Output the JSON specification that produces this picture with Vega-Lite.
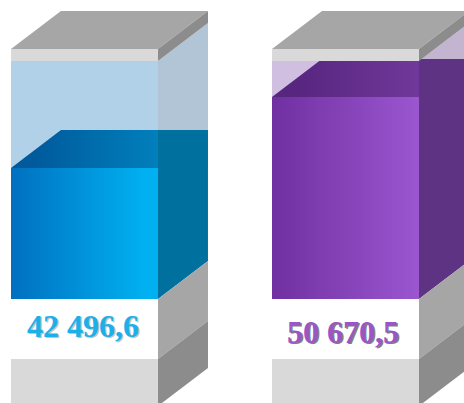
{
"$schema":"https://vega.github.io/schema/vega-lite/v6.json",
"width":464,"height":403,"padding":0,
"autosize":{"type":"fit","contains":"padding"},
"background":"#ffffff",
"config":{"view":{"stroke":null}},
"resolve":{"scale":{"color":"independent"}},
"datasets":{
"shapes":[
{"shape":"A glass front","group":"back","x":0,"lo":42496.6,"hi":54816},
{"shape":"A glass front","group":"back","x":1,"lo":42496.6,"hi":54816},
{"shape":"A glass side","group":"back","x":1,"lo":42496.6,"hi":54816},
{"shape":"A glass side","group":"back","x":1.34,"lo":42496.6,"hi":59191},
{"shape":"B glass front","group":"back","x":1.7755,"lo":50670.5,"hi":54816},
{"shape":"B glass front","group":"back","x":2.7755,"lo":50670.5,"hi":54816},
{"shape":"B glass side","group":"back","x":2.7755,"lo":50670.5,"hi":54816},
{"shape":"B glass side","group":"back","x":3.1155,"lo":50670.5,"hi":59191},
{"shape":"A liquid top","group":"topA","x":0,"lo":42496.6,"hi":42496.6},
{"shape":"A liquid top","group":"topA","x":0.34,"lo":42496.6,"hi":46871.6},
{"shape":"A liquid top","group":"topA","x":1,"lo":42496.6,"hi":46871.6},
{"shape":"B liquid top","group":"topB","x":1.7755,"lo":50670.5,"hi":50670.5},
{"shape":"B liquid top","group":"topB","x":2.1155,"lo":50670.5,"hi":55045.5},
{"shape":"B liquid top","group":"topB","x":2.7755,"lo":50670.5,"hi":55045.5},
{"shape":"A liquid side","group":"mid","x":1,"lo":27415,"hi":46871.6},
{"shape":"A liquid side","group":"mid","x":1.34,"lo":31790,"hi":46871.6},
{"shape":"B liquid side","group":"mid","x":2.7755,"lo":27415,"hi":55045.5},
{"shape":"B liquid side","group":"mid","x":3.1155,"lo":31790,"hi":55045.5},
{"shape":"A liquid front","group":"frontA","x":0,"lo":27415,"hi":42496.6},
{"shape":"A liquid front","group":"frontA","x":1,"lo":27415,"hi":42496.6},
{"shape":"B liquid front","group":"frontB","x":1.7755,"lo":27415,"hi":50670.5},
{"shape":"B liquid front","group":"frontB","x":2.7755,"lo":27415,"hi":50670.5},
{"shape":"A lid top","group":"case","x":0,"lo":56198,"hi":56198},
{"shape":"A lid top","group":"case","x":0.34,"lo":56198,"hi":60572},
{"shape":"A lid top","group":"case","x":1,"lo":56198,"hi":60572},
{"shape":"A lid top","group":"case","x":1.34,"lo":60572,"hi":60572},
{"shape":"A lid front","group":"case","x":0,"lo":54816,"hi":56198},
{"shape":"A lid front","group":"case","x":1,"lo":54816,"hi":56198},
{"shape":"A lid side","group":"case","x":1,"lo":54816,"hi":56198},
{"shape":"A lid side","group":"case","x":1.34,"lo":59191,"hi":60572},
{"shape":"A base upper","group":"case","x":1,"lo":20507,"hi":27415},
{"shape":"A base upper","group":"case","x":1.34,"lo":24882,"hi":31790},
{"shape":"A base lower","group":"case","x":1,"lo":15096,"hi":20507},
{"shape":"A base lower","group":"case","x":1.34,"lo":19471,"hi":24882},
{"shape":"A base front","group":"case","x":0,"lo":15441,"hi":20507},
{"shape":"A base front","group":"case","x":1,"lo":15441,"hi":20507},
{"shape":"B lid top","group":"case","x":1.7755,"lo":56198,"hi":56198},
{"shape":"B lid top","group":"case","x":2.1155,"lo":56198,"hi":60572},
{"shape":"B lid top","group":"case","x":2.7755,"lo":56198,"hi":60572},
{"shape":"B lid top","group":"case","x":3.1155,"lo":60572,"hi":60572},
{"shape":"B lid front","group":"case","x":1.7755,"lo":54816,"hi":56198},
{"shape":"B lid front","group":"case","x":2.7755,"lo":54816,"hi":56198},
{"shape":"B lid side","group":"case","x":2.7755,"lo":54816,"hi":56198},
{"shape":"B lid side","group":"case","x":3.1155,"lo":59191,"hi":60572},
{"shape":"B base upper","group":"case","x":2.7755,"lo":20507,"hi":27415},
{"shape":"B base upper","group":"case","x":3.1155,"lo":24882,"hi":31790},
{"shape":"B base lower","group":"case","x":2.7755,"lo":15096,"hi":20507},
{"shape":"B base lower","group":"case","x":3.1155,"lo":19471,"hi":24882},
{"shape":"B base front","group":"case","x":1.7755,"lo":15441,"hi":20507},
{"shape":"B base front","group":"case","x":2.7755,"lo":15441,"hi":20507}
],
"labels":[
{"label":"42 496,6","series":"A","x":0.49,"y":23040},
{"label":"50 670,5","series":"B","x":2.2585,"y":22349}
]
},
"encoding":{
"x":{"field":"x","type":"quantitative","axis":null,"scale":{"domain":[-0.0748,3.0816],"nice":false,"zero":false}},
"y":{"field":"lo","type":"quantitative","axis":null,"scale":{"domain":[15441,61839],"nice":false,"zero":false}},
"y2":{"field":"hi"}
},
"layer":[
{"data":{"name":"shapes"},"transform":[{"filter":"datum.group==='back'"}],
 "mark":{"type":"area","clip":true},
 "encoding":{"color":{"field":"shape","type":"nominal","legend":null,"scale":{"domain":["A glass front","A glass side","B glass front","B glass side"],"range":["#b1d1e9","#b2c5d7","#d0bfe0","#c3b5cf"]}}}},
{"data":{"name":"shapes"},"transform":[{"filter":"datum.group==='topA'"}],
 "mark":{"type":"area","clip":true,"color":{"gradient":"linear","x1":0,"y1":0,"x2":1,"y2":0,"stops":[{"offset":0.15,"color":"#005a9c"},{"offset":1,"color":"#0080bc"}]}}},
{"data":{"name":"shapes"},"transform":[{"filter":"datum.group==='topB'"}],
 "mark":{"type":"area","clip":true,"color":{"gradient":"linear","x1":0,"y1":0,"x2":1,"y2":0,"stops":[{"offset":0.15,"color":"#57267f"},{"offset":1,"color":"#70389a"}]}}},
{"data":{"name":"shapes"},"transform":[{"filter":"datum.group==='mid'"}],
 "mark":{"type":"area","clip":true},
 "encoding":{"color":{"field":"shape","type":"nominal","legend":null,"scale":{"domain":["A liquid side","B liquid side"],"range":["#00709f","#5f3384"]}}}},
{"data":{"name":"shapes"},"transform":[{"filter":"datum.group==='frontA'"}],
 "mark":{"type":"area","clip":true,"color":{"gradient":"linear","x1":0,"y1":0,"x2":1,"y2":0,"stops":[{"offset":0,"color":"#0070c0"},{"offset":0.9,"color":"#00b0f0"},{"offset":1,"color":"#00b0f0"}]}}},
{"data":{"name":"shapes"},"transform":[{"filter":"datum.group==='frontB'"}],
 "mark":{"type":"area","clip":true,"color":{"gradient":"linear","x1":0,"y1":0,"x2":1,"y2":0,"stops":[{"offset":0,"color":"#7030a0"},{"offset":1,"color":"#9b56d0"}]}}},
{"data":{"name":"shapes"},"transform":[{"filter":"datum.group==='case'"}],
 "mark":{"type":"area","clip":true},
 "encoding":{"color":{"field":"shape","type":"nominal","legend":null,"scale":{"domain":["A lid top","A lid front","A lid side","A base upper","A base lower","A base front","B lid top","B lid front","B lid side","B base upper","B base lower","B base front"],"range":["#a6a6a6","#d9d9d9","#8c8c8c","#a6a6a6","#8c8c8c","#d9d9d9","#a6a6a6","#d9d9d9","#8c8c8c","#a6a6a6","#8c8c8c","#d9d9d9"]}}}},
{"data":{"name":"labels"},
 "mark":{"type":"text","font":"Liberation Serif","fontWeight":"bold","fontSize":32,"baseline":"alphabetic","align":"center","dx":1.5,"dy":1.5},
 "encoding":{"y":{"field":"y","type":"quantitative"},"y2":null,"text":{"field":"label"},
  "color":{"field":"series","type":"nominal","legend":null,"scale":{"domain":["A","B"],"range":["#c4c4c4","#808080"]}}}},
{"data":{"name":"labels"},
 "mark":{"type":"text","font":"Liberation Serif","fontWeight":"bold","fontSize":32,"baseline":"alphabetic","align":"center"},
 "encoding":{"y":{"field":"y","type":"quantitative"},"y2":null,"text":{"field":"label"},
  "color":{"field":"series","type":"nominal","legend":null,"scale":{"domain":["A","B"],"range":["#1cb0ea","#9a55c8"]}}}}
]
}
